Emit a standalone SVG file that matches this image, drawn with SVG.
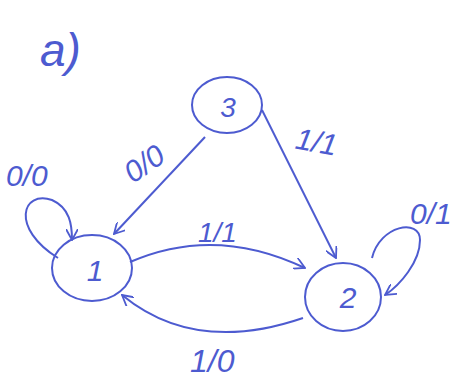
<svg xmlns="http://www.w3.org/2000/svg" width="465" height="378" viewBox="0 0 465 378">
<style>
.n{fill:none;stroke:#4d5bd0;stroke-width:2}
.e{fill:none;stroke:#4d5bd0;stroke-width:2}
.t{font-family:"Liberation Sans",sans-serif;fill:#4d5bd0;font-style:italic}
</style>
<defs>
<marker id="a" viewBox="0 0 12 12" refX="11" refY="6" markerWidth="12" markerHeight="12" markerUnits="userSpaceOnUse" orient="auto">
<path d="M0,0 L11,6 L0,12" fill="none" stroke="#4d5bd0" stroke-width="1.8"/>
</marker>
</defs>
<rect width="465" height="378" fill="#fff"/>
<text class="t" x="40" y="66" font-size="46">a)</text>
<g id="node3"><ellipse class="n" cx="227" cy="105" rx="35" ry="28"/><text class="t" x="228" y="117" font-size="28" text-anchor="middle">3</text></g>
<g id="node1"><ellipse class="n" cx="92" cy="268" rx="40" ry="33"/><text class="t" x="95" y="281" font-size="30" text-anchor="middle">1</text></g>
<g id="node2"><ellipse class="n" cx="343" cy="297" rx="38" ry="34"/><text class="t" x="348" y="308" font-size="30" text-anchor="middle">2</text></g>
<g id="edges">
<path class="e" d="M205,137 L114,234" marker-end="url(#a)"/>
<path class="e" d="M262,110 L336,258" marker-end="url(#a)"/>
<path class="e" d="M130,262 Q215,225 305,268" marker-end="url(#a)"/>
<path class="e" d="M303,318 Q195,355 122,295" marker-end="url(#a)"/>
<path class="e" d="M58,258 C10,228 22,190 52,200 C70,208 72,225 72,240" marker-end="url(#a)"/>
<path class="e" d="M372,258 C380,225 420,218 420,240 C420,262 400,285 385,295" marker-end="url(#a)"/>
</g>
<g id="labels">
<text class="t" x="6" y="186" font-size="30">0/0</text>
<text class="t" x="122" y="175" font-size="30" transform="rotate(-35 142 162)">0/0</text>
<text class="t" x="296" y="152" font-size="30" transform="rotate(10 316 140)">1/1</text>
<text class="t" x="198" y="242" font-size="28">1/1</text>
<text class="t" x="410" y="224" font-size="30">0/1</text>
<text class="t" x="190" y="372" font-size="32">1/0</text>
</g>
</svg>
